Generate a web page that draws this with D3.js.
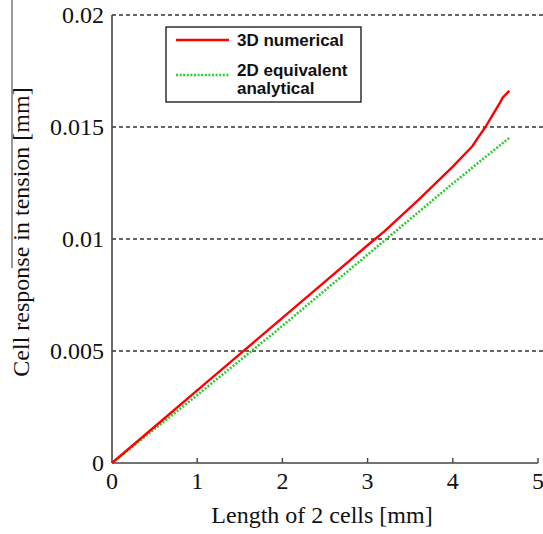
<!DOCTYPE html>
<html>
<head>
<meta charset="utf-8">
<script src="https://cdn.jsdelivr.net/npm/d3@7"></script>
<style>
  html, body { margin: 0; padding: 0; background: #fff; }
  svg { display: block; }
  .tick-label { font-family: "Liberation Serif", "Times New Roman", serif; font-size: 24px; fill: #111; }
  .axis-title { font-family: "Liberation Serif", "Times New Roman", serif; font-size: 24px; fill: #111; }
  .legend-text { font-family: "Liberation Sans", Arial, sans-serif; font-size: 17px; font-weight: bold; fill: #111; }
</style>
</head>
<body>
<div id="chart"></div>
<script>
// data
const xTicks = [0, 1, 2, 3, 4, 5];
const yTicks = [0, 0.005, 0.01, 0.015, 0.02];
const yTickLabels = ['0', '0.005', '0.01', '0.015', '0.02'];

// 3D numerical (red solid)
const numX = [0, 0.5, 1.0, 1.5, 2.0, 2.5, 3.0, 3.2, 3.4, 3.6, 3.8, 4.0, 4.227, 4.30, 4.383, 4.47, 4.547, 4.586, 4.62, 4.664];
const numY = [0, 0.00162, 0.00324, 0.00486, 0.00648, 0.0081, 0.00972, 0.01035, 0.01105, 0.01176, 0.01249, 0.01323, 0.01413, 0.01455, 0.0150, 0.01555, 0.01604, 0.01631, 0.01645, 0.01661];

// 2D equivalent analytical (green dotted)
const anaX = [0, 1, 2, 3, 4, 4.664];
const anaY = [0, 0.00303, 0.00612, 0.0093, 0.01248, 0.01452];

const W = 543, H = 534;
const margin = { left: 112, right: 5, top: 15, bottom: 71 };

const svg = d3.select('#chart').append('svg')
  .attr('width', W).attr('height', H);

const x = d3.scaleLinear().domain([0, 5]).range([margin.left, 538]);
const y = d3.scaleLinear().domain([0, 0.02]).range([H - margin.bottom, margin.top]);

// dashed gridlines
svg.append('g').selectAll('line')
  .data(yTicks.filter(d => d > 0))
  .join('line')
  .attr('x1', x(0)).attr('x2', W)
  .attr('y1', d => y(d)).attr('y2', d => y(d))
  .attr('stroke', '#333').attr('stroke-width', 1.6)
  .attr('stroke-dasharray', '4,3');

// axes lines
svg.append('line')
  .attr('x1', x(0)).attr('x2', x(0)).attr('y1', y(0)).attr('y2', y(0.02))
  .attr('stroke', '#444').attr('stroke-width', 1.6);
svg.append('line')
  .attr('x1', x(0)).attr('x2', x(5)).attr('y1', y(0)).attr('y2', y(0))
  .attr('stroke', '#444').attr('stroke-width', 1.6);

// inward x ticks
svg.append('g').selectAll('line')
  .data(xTicks.filter(d => d > 0))
  .join('line')
  .attr('x1', d => x(d)).attr('x2', d => x(d))
  .attr('y1', y(0)).attr('y2', y(0) - 5)
  .attr('stroke', '#444').attr('stroke-width', 1.4);

// tick labels
svg.append('g').selectAll('text')
  .data(xTicks)
  .join('text')
  .attr('class', 'tick-label')
  .attr('x', d => x(d)).attr('y', 489)
  .attr('text-anchor', 'middle')
  .text(d => d);

svg.append('g').selectAll('text')
  .data(yTicks)
  .join('text')
  .attr('class', 'tick-label')
  .attr('x', 104).attr('y', d => y(d) + 8)
  .attr('text-anchor', 'end')
  .text((d, i) => yTickLabels[i]);

// axis titles
svg.append('text')
  .attr('class', 'axis-title')
  .attr('x', 322).attr('y', 523)
  .attr('text-anchor', 'middle')
  .text('Length of 2 cells [mm]');

svg.append('text')
  .attr('class', 'axis-title')
  .attr('transform', 'translate(29,232) rotate(-90)')
  .attr('text-anchor', 'middle')
  .text('Cell response in tension [mm]');

// stray rule at the left edge of the original figure
svg.append('line')
  .attr('x1', 12).attr('x2', 12).attr('y1', 0).attr('y2', 268)
  .attr('stroke', '#333').attr('stroke-width', 1);

// series
const line = d3.line().x(d => x(d[0])).y(d => y(d[1]));

svg.append('path')
  .datum(anaX.map((v, i) => [v, anaY[i]]))
  .attr('d', line)
  .attr('fill', 'none')
  .attr('stroke', '#2ecc2e').attr('stroke-width', 2.6)
  .attr('stroke-dasharray', '2,1.6');

svg.append('path')
  .datum(numX.map((v, i) => [v, numY[i]]))
  .attr('d', line)
  .attr('fill', 'none')
  .attr('stroke', '#ff0000').attr('stroke-width', 2.4)
  .attr('stroke-linejoin', 'round');

// legend
const lg = svg.append('g');
lg.append('rect')
  .attr('x', 166).attr('y', 27).attr('width', 195).attr('height', 75)
  .attr('fill', '#fff').attr('stroke', '#222').attr('stroke-width', 1.4);
lg.append('line')
  .attr('x1', 176).attr('x2', 229).attr('y1', 40).attr('y2', 40)
  .attr('stroke', '#ff0000').attr('stroke-width', 2.4);
lg.append('line')
  .attr('x1', 176).attr('x2', 229).attr('y1', 75).attr('y2', 75)
  .attr('stroke', '#2ecc2e').attr('stroke-width', 2.6)
  .attr('stroke-dasharray', '2,1.6');
lg.append('text').attr('class', 'legend-text').attr('x', 237).attr('y', 46).text('3D numerical');
lg.append('text').attr('class', 'legend-text').attr('x', 237).attr('y', 76).text('2D equivalent');
lg.append('text').attr('class', 'legend-text').attr('x', 237).attr('y', 94).text('analytical');
</script>
</body>
</html>
